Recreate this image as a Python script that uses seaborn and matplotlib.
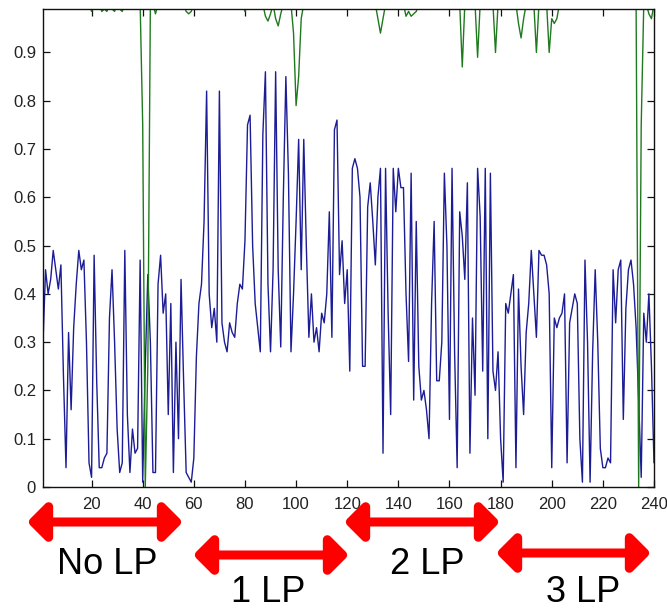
import numpy as np
import pandas as pd
import matplotlib
matplotlib.use("Agg")
import matplotlib.pyplot as plt
import seaborn as sns
from matplotlib.patches import FancyArrowPatch

# ---------------- data ----------------
blue_values = [
    0.30, 0.45, 0.40, 0.43, 0.49, 0.45, 0.41, 0.46, 0.23, 0.04,
    0.32, 0.16, 0.33, 0.42, 0.49, 0.45, 0.47, 0.30, 0.05, 0.02,
    0.48, 0.22, 0.04, 0.04, 0.06, 0.07, 0.35, 0.45, 0.30, 0.12,
    0.03, 0.05, 0.49, 0.15, 0.03, 0.12, 0.07, 0.08, 0.47, 0.01,
    0.25, 0.44, 0.30, 0.03, 0.03, 0.42, 0.48, 0.36, 0.40, 0.15,
    0.38, 0.03, 0.30, 0.10, 0.43, 0.22, 0.03, 0.02, 0.01, 0.06,
    0.27, 0.38, 0.42, 0.55, 0.82, 0.40, 0.33, 0.37, 0.30, 0.82,
    0.34, 0.30, 0.28, 0.34, 0.32, 0.31, 0.38, 0.42, 0.41, 0.51,
    0.75, 0.77, 0.50, 0.38, 0.33, 0.28, 0.73, 0.86, 0.42, 0.28,
    0.45, 0.86, 0.45, 0.29, 0.60, 0.85, 0.65, 0.28, 0.40, 0.55,
    0.72, 0.45, 0.72, 0.50, 0.31, 0.40, 0.30, 0.33, 0.28, 0.36,
    0.34, 0.40, 0.57, 0.31, 0.74, 0.76, 0.44, 0.51, 0.38, 0.45,
    0.24, 0.66, 0.68, 0.66, 0.60, 0.25, 0.25, 0.58, 0.63, 0.55,
    0.46, 0.60, 0.66, 0.07, 0.66, 0.36, 0.15, 0.66, 0.57, 0.66,
    0.62, 0.62, 0.40, 0.26, 0.65, 0.18, 0.55, 0.25, 0.18, 0.20,
    0.16, 0.10, 0.38, 0.55, 0.22, 0.22, 0.30, 0.65, 0.50, 0.14,
    0.66, 0.28, 0.04, 0.57, 0.52, 0.43, 0.63, 0.07, 0.35, 0.19,
    0.66, 0.56, 0.24, 0.66, 0.10, 0.65, 0.24, 0.20, 0.28, 0.10,
    0.01, 0.38, 0.36, 0.40, 0.44, 0.04, 0.41, 0.25, 0.15, 0.32,
    0.38, 0.49, 0.40, 0.31, 0.49, 0.48, 0.48, 0.46, 0.40, 0.04,
    0.35, 0.33, 0.35, 0.36, 0.40, 0.05, 0.34, 0.37, 0.40, 0.38,
    0.10, 0.01, 0.47, 0.30, 0.01, 0.28, 0.45, 0.30, 0.08, 0.04,
    0.04, 0.06, 0.05, 0.45, 0.34, 0.45, 0.47, 0.14, 0.37, 0.45,
    0.47, 0.42, 0.33, 0.18, 0.02, 0.36, 0.30, 0.40, 0.25, 0.05,
]

green_values = [
    1.00, 1.00, 1.00, 1.00, 1.00, 1.00, 1.00, 1.00, 1.00, 1.00,
    1.00, 1.00, 1.00, 1.00, 1.00, 1.00, 1.00, 1.00, 1.00, 0.985,
    1.00, 1.00, 1.00, 0.985, 0.99, 0.985, 1.00, 0.99, 0.985, 1.00,
    0.99, 0.985, 1.00, 1.00, 1.00, 1.00, 1.00, 1.00, 1.00, 0.75,
    0.00, 0.25, 1.00, 1.00, 0.98, 1.00, 1.00, 1.00, 1.00, 1.00,
    1.00, 1.00, 1.00, 1.00, 1.00, 1.00, 0.985, 0.98, 0.985, 1.00,
    1.00, 1.00, 1.00, 1.00, 1.00, 1.00, 1.00, 1.00, 1.00, 1.00,
    1.00, 1.00, 1.00, 1.00, 1.00, 1.00, 1.00, 1.00, 1.00, 0.985,
    1.00, 1.00, 1.00, 1.00, 1.00, 1.00, 1.00, 0.975, 0.965, 0.98,
    1.00, 0.97, 0.955, 0.98, 1.00, 1.00, 1.00, 1.00, 0.94, 0.79,
    0.85, 0.97, 1.00, 1.00, 1.00, 1.00, 1.00, 1.00, 1.00, 1.00,
    1.00, 1.00, 1.00, 1.00, 1.00, 1.00, 1.00, 1.00, 1.00, 1.00,
    1.00, 1.00, 1.00, 1.00, 1.00, 1.00, 1.00, 1.00, 1.00, 1.00,
    1.00, 0.97, 0.94, 0.97, 1.00, 1.00, 1.00, 1.00, 1.00, 1.00,
    1.00, 1.00, 0.975, 0.985, 0.975, 0.98, 0.985, 1.00, 1.00, 1.00,
    1.00, 1.00, 1.00, 1.00, 1.00, 1.00, 1.00, 1.00, 1.00, 1.00,
    1.00, 1.00, 1.00, 1.00, 0.87, 1.00, 1.00, 1.00, 1.00, 1.00,
    0.89, 1.00, 1.00, 1.00, 1.00, 1.00, 1.00, 0.90, 1.00, 1.00,
    1.00, 1.00, 1.00, 1.00, 1.00, 1.00, 0.96, 0.93, 0.97, 1.00,
    1.00, 1.00, 1.00, 0.90, 1.00, 1.00, 1.00, 1.00, 0.90, 0.97,
    0.96, 0.97, 1.00, 1.00, 1.00, 1.00, 1.00, 1.00, 1.00, 1.00,
    1.00, 1.00, 1.00, 1.00, 1.00, 1.00, 1.00, 1.00, 1.00, 1.00,
    1.00, 1.00, 1.00, 1.00, 1.00, 1.00, 1.00, 1.00, 1.00, 1.00,
    1.00, 1.00, 1.00, 0.00, 0.75, 1.00, 1.00, 0.98, 0.97, 1.00,
]

sample_index = np.arange(1, len(blue_values) + 1)

x_ticks = [20, 40, 60, 80, 100, 120, 140, 160, 180, 200, 220, 240]
y_ticks = [0, 0.1, 0.2, 0.3, 0.4, 0.5, 0.6, 0.7, 0.8, 0.9]
y_tick_labels = ["0", "0.1", "0.2", "0.3", "0.4", "0.5", "0.6", "0.7", "0.8", "0.9"]

phase_labels = ["No LP", "1 LP", "2 LP", "3 LP"]

df = pd.DataFrame({
    "sample": np.concatenate([sample_index, sample_index]),
    "value": blue_values + green_values,
    "series": ["blue"] * len(blue_values) + ["green"] * len(green_values),
})

# ---------------- style ----------------
sns.set_theme(style="white")
plt.rcParams["font.family"] = ["Liberation Sans", "DejaVu Sans"]

fig = plt.figure(figsize=(6.67, 6.10), dpi=100)
ax = fig.add_axes([43 / 667, 1 - 487 / 610, (654 - 43) / 667, (487 - 9) / 610])

sns.lineplot(data=df, x="sample", y="value", hue="series",
             palette={"blue": "#1c1c96", "green": "#1f7a1f"},
             estimator=None, linewidth=1.0, legend=False, ax=ax)

ax.set_xlim(1, 240)
ax.set_ylim(0, 0.99)
ax.set_xticks(x_ticks)
ax.set_xticklabels([str(t) for t in x_ticks])
ax.set_yticks(y_ticks)
ax.set_yticklabels(y_tick_labels)
ax.set_xlabel("")
ax.set_ylabel("")
ax.tick_params(direction="in", length=5, width=0.9, colors="#111111",
               labelsize=12, top=True, right=True, bottom=True, left=True,
               labelcolor="#222222")
ax.tick_params(axis="x", pad=7)
ax.tick_params(axis="y", pad=5)
for s in ax.spines.values():
    s.set_visible(True)
    s.set_color("#111111")
    s.set_linewidth(1.0)

# ---------------- phase arrows and labels (figure pixel layout) ----------------
W, H = 667.0, 610.0
arrow_rows = [(27, 183, 522), (193, 349, 555), (344, 500, 522), (496, 651, 553)]
label_pos = [(107, 564), (268, 592), (427, 564), (583, 592)]

for (x0, x1, yy) in arrow_rows:
    arr = FancyArrowPatch((x0 / W, 1 - yy / H), (x1 / W, 1 - yy / H),
                          transform=fig.transFigure,
                          arrowstyle="<|-|>,head_length=0.55,head_width=0.55",
                          mutation_scale=20, linewidth=6.5, color="#ff0000",
                          shrinkA=0, shrinkB=0, joinstyle="round", capstyle="butt")
    fig.patches.append(arr)

for lbl, (cx, cy) in zip(phase_labels, label_pos):
    fig.text(cx / W, 1 - cy / H, lbl, ha="center", va="center",
             fontsize=26, color="black")

fig.savefig("out.png", dpi=100)
